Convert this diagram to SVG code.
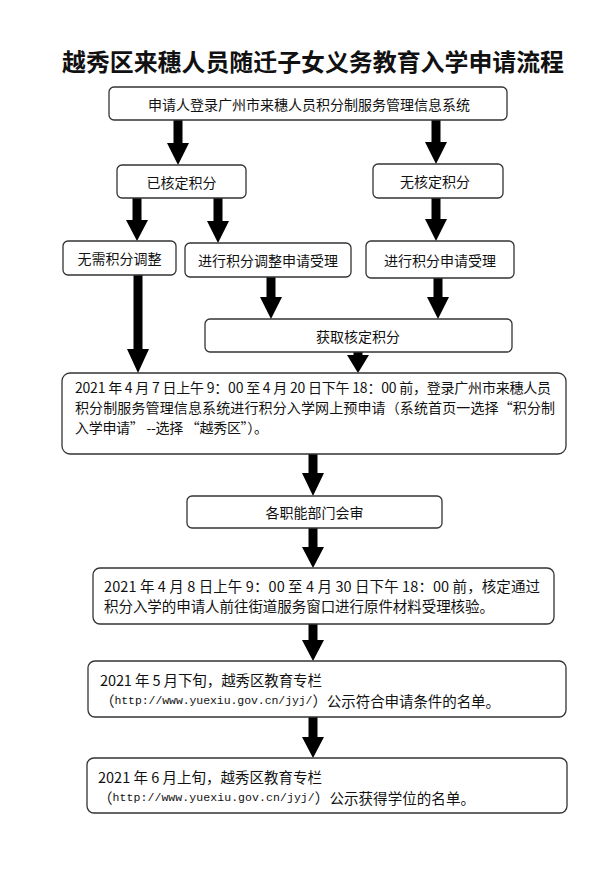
<svg xmlns="http://www.w3.org/2000/svg" width="609" height="872" viewBox="0 0 609 872">
<style>
.box{fill:#fff;stroke:#333;stroke-width:1.3}
.t{font-family:'Noto Sans CJK SC','Liberation Sans',sans-serif;font-size:14px;fill:#111;dominant-baseline:central}
.tl{font-size:14.5px}
.c{text-anchor:middle}
.title{font-family:'Noto Sans CJK SC','Liberation Sans',sans-serif;font-size:24px;font-weight:700;fill:#111;text-anchor:middle;dominant-baseline:central}
.url{font-family:'Liberation Mono',monospace;font-size:11.5px}
.arr{fill:#000}
</style>
<rect width="609" height="872" fill="#fff"/>
<text class="title" x="313" y="60" textLength="502" lengthAdjust="spacingAndGlyphs">越秀区来穗人员随迁子女义务教育入学申请流程</text>

<g id="connectors">
<path class="arr" d="M173.5,120 H182.5 V143 H189 L178,165 L167,143 H173.5 Z"/>
<path class="arr" d="M431.5,120 H440.5 V142 H447 L436,164 L425,142 H431.5 Z"/>
<path class="arr" d="M132.5,198 H141.5 V220 H148 L137,241 L126,220 H132.5 Z"/>
<path class="arr" d="M213.5,198 H222.5 V221 H229 L218,243 L207,221 H213.5 Z"/>
<path class="arr" d="M431.5,198 H440.5 V219 H447 L436,241 L425,219 H431.5 Z"/>
<path class="arr" d="M266.5,277 H275.5 V297 H282 L271,319 L260,297 H266.5 Z"/>
<path class="arr" d="M433.5,278 H442.5 V297 H449 L438,319 L427,297 H433.5 Z"/>
<path class="arr" d="M133.5,275 H142.5 V349 H149 L138,373 L127,349 H133.5 Z"/>
<path class="arr" d="M353.5,352 H362.5 V355 H369 L358,373 L347,355 H353.5 Z"/>
<path class="arr" d="M308.5,454 H317.5 V473 H324 L313,496 L302,473 H308.5 Z"/>
<path class="arr" d="M308.5,528 H317.5 V547 H324 L313,568 L302,547 H308.5 Z"/>
<path class="arr" d="M308.5,624 H317.5 V640 H324 L313,661 L302,640 H308.5 Z"/>
<path class="arr" d="M308.5,717 H317.5 V737 H324 L313,758 L302,737 H308.5 Z"/>
</g>

<g id="n1"><rect class="box" x="109" y="87" width="398" height="33" rx="5"/>
<text class="t c" x="309" y="103.5">申请人登录广州市来穗人员积分制服务管理信息系统</text></g>

<g id="n2"><rect class="box" x="117" y="165" width="129" height="33" rx="5"/>
<text class="t c" x="181.5" y="181.5">已核定积分</text></g>

<g id="n3"><rect class="box" x="373" y="164" width="130" height="34" rx="5"/>
<text class="t c" x="435" y="181">无核定积分</text></g>

<g id="n4"><rect class="box" x="63" y="241" width="113" height="34" rx="5"/>
<text class="t c" x="119.5" y="258">无需积分调整</text></g>

<g id="n5"><rect class="box" x="185" y="243" width="166" height="34" rx="5"/>
<text class="t c" x="268" y="260">进行积分调整申请受理</text></g>

<g id="n6"><rect class="box" x="366" y="241" width="148" height="37" rx="5"/>
<text class="t c" x="440" y="259.5">进行积分申请受理</text></g>

<g id="n7"><rect class="box" x="205" y="319" width="307" height="33" rx="5"/>
<text class="t c" x="358" y="336">获取核定积分</text></g>

<g id="n8"><rect class="box" x="62" y="373" width="504" height="81" rx="8"/>
<text class="t" x="75" y="387" textLength="476" lengthAdjust="spacing">2021 年 4 月 7 日上午 9：00 至 4 月 20 日下午 18：00 前，登录广州市来穗人员</text>
<text class="t" x="75" y="407" textLength="480" lengthAdjust="spacing">积分制服务管理信息系统进行积分入学网上预申请（系统首页一选择“积分制</text>
<text class="t" x="75" y="427" textLength="193" lengthAdjust="spacing">入学申请” --选择 “越秀区”）。</text></g>

<g id="n9"><rect class="box" x="187" y="496" width="255" height="32" rx="5"/>
<text class="t c" x="314.5" y="512">各职能部门会审</text></g>

<g id="n10"><rect class="box" x="93" y="568" width="461" height="56" rx="7"/>
<text class="t tl" x="104" y="585" textLength="436" lengthAdjust="spacing">2021 年 4 月 8 日上午 9：00 至 4 月 30 日下午 18：00 前，核定通过</text>
<text class="t tl" x="104" y="605" textLength="390" lengthAdjust="spacing">积分入学的申请人前往街道服务窗口进行原件材料受理核验。</text></g>

<g id="n11"><rect class="box" x="88" y="661" width="478" height="56" rx="7"/>
<text class="t tl" x="100" y="679" textLength="222" lengthAdjust="spacing">2021 年 5 月下旬，越秀区教育专栏</text>
<text class="t tl" x="100" y="700" textLength="400" lengthAdjust="spacing">（<tspan class="url">http://www.yuexiu.gov.cn/jyj/</tspan>）公示符合申请条件的名单。</text></g>

<g id="n12"><rect class="box" x="87" y="758" width="480" height="55" rx="7"/>
<text class="t tl" x="98" y="776" textLength="224" lengthAdjust="spacing">2021 年 6 月上旬，越秀区教育专栏</text>
<text class="t tl" x="98" y="797" textLength="377" lengthAdjust="spacing">（<tspan class="url">http://www.yuexiu.gov.cn/jyj/</tspan>）公示获得学位的名单。</text></g>
</svg>
